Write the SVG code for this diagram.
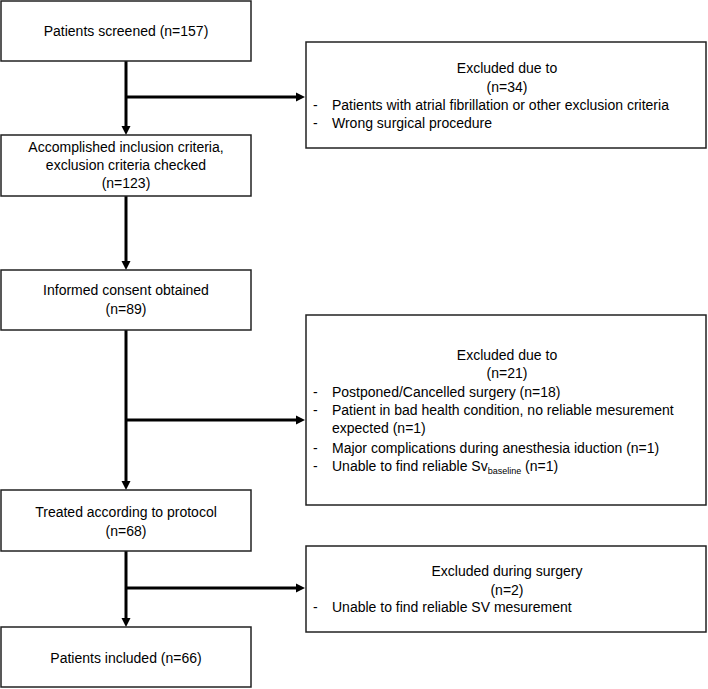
<svg xmlns="http://www.w3.org/2000/svg" width="708" height="689" viewBox="0 0 708 689">
<style>
.box{fill:#fff;stroke:#222;stroke-width:1.5}
.t{font-family:"Liberation Sans",Arial,sans-serif;font-size:14px;fill:#000}
.c{text-anchor:middle}
.con{stroke:#000;stroke-width:3;fill:none}
</style>
<defs>
<marker id="ah" markerUnits="userSpaceOnUse" markerWidth="10" markerHeight="10" viewBox="0 0 10 10" refX="3" refY="5" orient="auto">
<path d="M0,0.5 L9,5 L0,9.5 Z" fill="#000"/>
</marker>
</defs>
<rect width="708" height="689" fill="#fff"/>
<g id="connectors">
<line class="con" x1="126" y1="61" x2="126" y2="129" marker-end="url(#ah)"/>
<line class="con" x1="126" y1="97" x2="299" y2="97" marker-end="url(#ah)"/>
<line class="con" x1="126" y1="196" x2="126" y2="264" marker-end="url(#ah)"/>
<line class="con" x1="126" y1="330" x2="126" y2="484" marker-end="url(#ah)"/>
<line class="con" x1="126" y1="420" x2="299" y2="420" marker-end="url(#ah)"/>
<line class="con" x1="126" y1="551" x2="126" y2="621" marker-end="url(#ah)"/>
<line class="con" x1="126" y1="588" x2="299" y2="588" marker-end="url(#ah)"/>
</g>
<g id="screened">
<rect class="box" x="1" y="1" width="250" height="60"/>
<text class="t c" x="126" y="36">Patients screened (n=157)</text>
</g>
<g id="excluded1">
<rect class="box" x="306" y="42" width="400" height="106"/>
<text class="t c" x="507" y="73">Excluded due to</text>
<text class="t c" x="507" y="92">(n=34)</text>
<text class="t" x="313" y="110">-</text>
<text class="t" x="332" y="110">Patients with atrial fibrillation or other exclusion criteria</text>
<text class="t" x="313" y="128">-</text>
<text class="t" x="332" y="128">Wrong surgical procedure</text>
</g>
<g id="accomplished">
<rect class="box" x="1" y="135" width="250" height="61"/>
<text class="t c" x="126" y="152">Accomplished inclusion criteria,</text>
<text class="t c" x="126" y="170">exclusion criteria checked</text>
<text class="t c" x="126" y="188">(n=123)</text>
</g>
<g id="consent">
<rect class="box" x="1" y="270" width="250" height="60"/>
<text class="t c" x="126" y="295">Informed consent obtained</text>
<text class="t c" x="126" y="314">(n=89)</text>
</g>
<g id="excluded2">
<rect class="box" x="306" y="315" width="400" height="190"/>
<text class="t c" x="507" y="360">Excluded due to</text>
<text class="t c" x="507" y="378">(n=21)</text>
<text class="t" x="313" y="397">-</text>
<text class="t" x="332" y="397">Postponed/Cancelled surgery (n=18)</text>
<text class="t" x="313" y="415">-</text>
<text class="t" x="332" y="415">Patient in bad health condition, no reliable mesurement</text>
<text class="t" x="332" y="433">expected (n=1)</text>
<text class="t" x="313" y="453">-</text>
<text class="t" x="332" y="453">Major complications during anesthesia iduction (n=1)</text>
<text class="t" x="313" y="471">-</text>
<text class="t" x="332" y="471">Unable to find reliable Sv<tspan font-size="9" dy="3">baseline</tspan><tspan dy="-3"> (n=1)</tspan></text>
</g>
<g id="treated">
<rect class="box" x="1" y="490" width="250" height="61"/>
<text class="t c" x="126" y="517">Treated according to protocol</text>
<text class="t c" x="126" y="536">(n=68)</text>
</g>
<g id="excluded3">
<rect class="box" x="306" y="546" width="400" height="86"/>
<text class="t c" x="507" y="576">Excluded during surgery</text>
<text class="t c" x="507" y="595">(n=2)</text>
<text class="t" x="313" y="612">-</text>
<text class="t" x="332" y="612">Unable to find reliable SV mesurement</text>
</g>
<g id="included">
<rect class="box" x="1" y="627" width="250" height="60"/>
<text class="t c" x="126" y="663">Patients included (n=66)</text>
</g>
</svg>
